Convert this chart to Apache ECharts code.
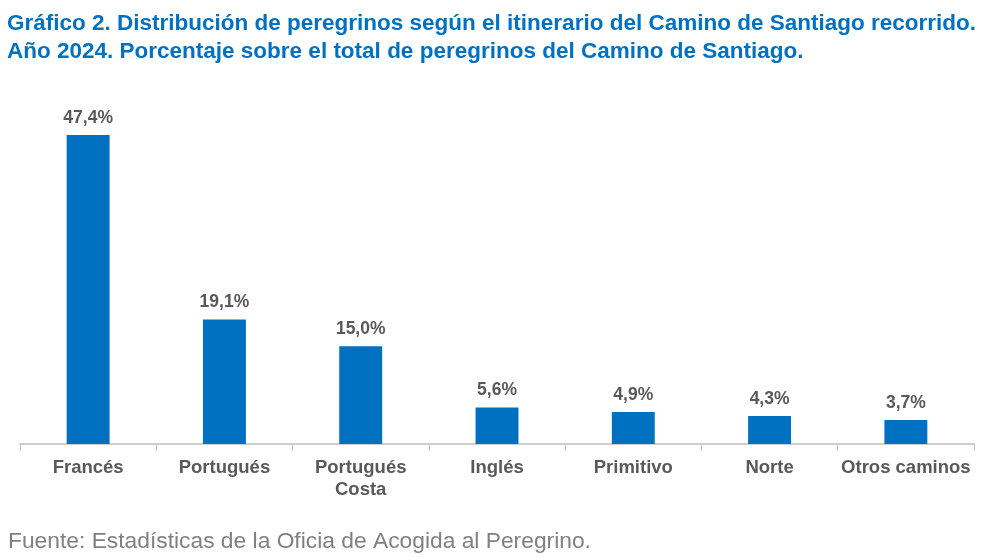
<!DOCTYPE html>
<html>
<head>
<meta charset="utf-8">
<script src="https://cdn.jsdelivr.net/npm/echarts@6/dist/echarts.min.js"></script>
<style>
  html, body { margin: 0; padding: 0; background: #fff; }
  #chart { width: 999px; height: 557px; }
</style>
</head>
<body>
<div id="chart"></div>
<script>
const categories = ['Francés', 'Portugués', 'Portugués\nCosta', 'Inglés', 'Primitivo', 'Norte', 'Otros caminos']
const values = [47.4, 19.1, 15.0, 5.6, 4.9, 4.3, 3.7]
const titleText = 'Gráfico 2. Distribución de peregrinos según el itinerario del Camino de Santiago recorrido.\nAño 2024. Porcentaje sobre el total de peregrinos del Camino de Santiago.'
const sourceText = 'Fuente: Estadísticas de la Oficia de Acogida al Peregrino.'

const myChart = echarts.init(document.getElementById('chart'))
const option = {
  animation: false,
  textStyle: { fontFamily: 'Liberation Sans, Arial, sans-serif' },
  title: [
    {
      text: titleText,
      left: 7,
      top: 10,
      padding: 0,
      textStyle: {
        color: '#0070C0',
        fontSize: 22.5,
        fontWeight: 'bold',
        lineHeight: 28,
        fontFamily: 'Liberation Sans, Arial, sans-serif'
      }
    },
    {
      text: sourceText,
      left: 8,
      top: 530,
      padding: 0,
      textStyle: {
        color: '#808080',
        fontSize: 22.8,
        fontWeight: 'normal',
        fontFamily: 'Liberation Sans, Arial, sans-serif'
      }
    }
  ],
  grid: { left: 20, right: 25, top: 118, bottom: 113, containLabel: false },
  xAxis: {
    type: 'category',
    data: categories,
    axisLine: { lineStyle: { color: '#BFBFBF', width: 1.5 } },
    axisTick: { show: true, length: 7, lineStyle: { color: '#BFBFBF' } },
    axisLabel: {
      color: '#595959',
      fontSize: 18.5,
      fontWeight: 'bold',
      margin: 13,
      lineHeight: 22,
      interval: 0
    }
  },
  yAxis: {
    type: 'value',
    min: 0,
    max: 50,
    show: false
  },
  series: [
    {
      type: 'bar',
      data: values,
      barWidth: '31.5%',
      itemStyle: { color: '#0070C0' },
      label: {
        show: true,
        position: 'top',
        distance: 8,
        color: '#595959',
        fontSize: 17.5,
        fontWeight: 'bold',
        formatter: function (p) {
          return p.value.toFixed(1).replace('.', ',') + '%'
        }
      }
    }
  ]
}
myChart.setOption(option)
</script>
</body>
</html>
